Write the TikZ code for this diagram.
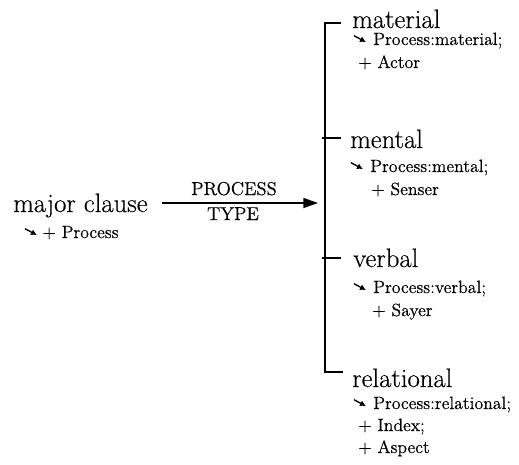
\documentclass[tikz,border=0pt]{standalone}
\usepackage{fontspec}
\setmainfont{Latin Modern Roman}[FakeBold=0.4]
\usetikzlibrary{arrows.meta}
% small south-east arrow used in front of feature realisations
\newcommand\realarrow{\tikz[baseline=0pt]\draw[line width=1pt,-{Latex[length=4.4pt,width=4.6pt]}] (0pt,7pt) -- (9pt,2.2pt);}
\tikzset{
  term/.style={font=\fontsize{20}{22}\selectfont, inner sep=0pt, anchor=base west},
  real/.style={font=\fontsize{13.3}{15}\selectfont, inner sep=0pt, anchor=base west},
  syslabel/.style={font=\fontsize{14}{16}\selectfont, inner sep=0pt, anchor=base},
  flow/.style={line width=1.2pt, -{Triangle[length=11pt,width=7.5pt]}},
  bracket/.style={line width=1.4pt},
  tick/.style={line width=1pt},
}
\begin{document}
\begin{tikzpicture}[x=0.75pt,y=-0.75pt]
\useasboundingbox (0,0) rectangle (519,465);

% entry condition
\node[term] (mc) at (13,212) {major clause};
\node[real] (mcr) at (24,238) {\realarrow\hspace{3.6pt}+ Process};

% system arrow and its name
\coordinate (start) at (162,203);
\coordinate (entry) at (318,203);
\draw[flow] (start) -- (entry);
\node[syslabel] (sn1) at (234,195) {PROCESS};
\node[syslabel] (sn2) at (233,220) {TYPE};

% bracket of options
\coordinate (btop) at (325,23);
\coordinate (bbot) at (325,372);
\draw[bracket] (341,23) -- (btop) -- (bbot) -- (343,372);
\draw[tick] (322,138) -- (341,138);
\draw[tick] (322,258) -- (341,258);

% material
\node[term] (mat) at (352,28) {material};
\node[real] (mat1) at (353,45) {\realarrow\hspace{5pt}Process:material;};
\node[real] (mat2) at (358,68) {+ Actor};

% mental
\node[term] (men) at (350,148) {mental};
\node[real] (men1) at (350,172) {\realarrow\hspace{5pt}Process:mental;};
\node[real] (men2) at (371,195) {+ Senser};

% verbal
\node[term] (ver) at (353,267) {verbal};
\node[real] (ver1) at (353,293) {\realarrow\hspace{5pt}Process:verbal;};
\node[real] (ver2) at (372,316) {+ Sayer};

% relational
\node[term] (rel) at (352,387) {relational};
\node[real] (rel1) at (353,409) {\realarrow\hspace{5pt}Process:relational;};
\node[real] (rel2) at (358,431) {+ Index;};
\node[real] (rel3) at (358,453) {+ Aspect};
\end{tikzpicture}
\end{document}
